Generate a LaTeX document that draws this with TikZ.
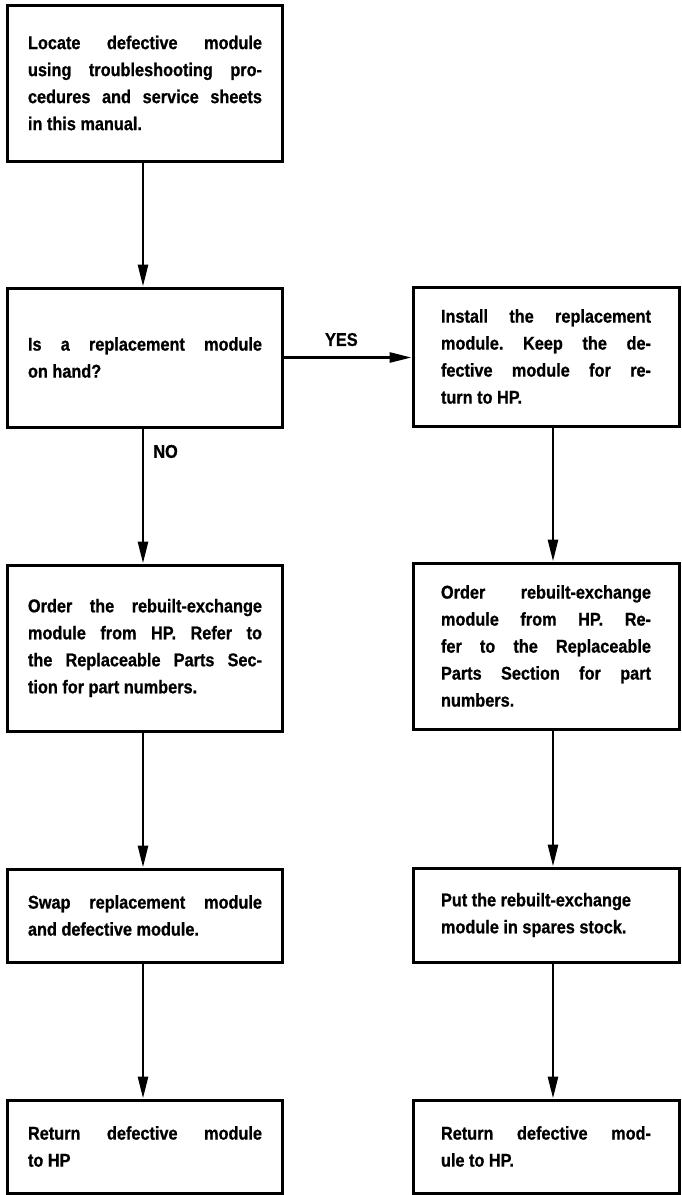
\documentclass[tikz,border=0pt]{standalone}
\usepackage{fontspec}
\setmainfont{Liberation Sans}[FakeStretch=0.88,BoldFeatures={FakeBold=0.8}]
\usetikzlibrary{arrows.meta}
\begin{document}
\begin{tikzpicture}[x=1pt,y=-1pt,
  box/.style={draw, line width=3pt, inner sep=0pt, align=justify,
    font=\fontsize{18.5}{27}\selectfont\bfseries,
    execute at begin node={\frenchspacing\hyphenpenalty=10000\tolerance=9999\emergencystretch=0pt}},
  lbox/.style={box, minimum width=275pt, text width=234pt},
  rbox/.style={box, minimum width=266pt, text width=210pt},
  flow/.style={line width=2.7pt, -{Triangle[length=22pt,width=10pt]}},
  lab/.style={inner sep=0pt, font=\fontsize{18.5}{20}\selectfont\bfseries}]
\useasboundingbox (0,0) rectangle (681,1195);

% left column
\node[lbox, minimum height=156pt] (b1) at (145,83)
  {Locate defective module\linebreak using troubleshooting pro-\linebreak cedures and service sheets\linebreak in this manual.};
\node[lbox, minimum height=139pt] (b2) at (145,357.5)
  {Is a replacement module\linebreak on hand?};
\node[lbox, minimum height=166pt] (b3) at (145,648)
  {Order the rebuilt-exchange\linebreak module from HP. Refer to\linebreak the Replaceable Parts Sec-\linebreak tion for part numbers.};
\node[lbox, minimum height=93pt] (b5) at (145,915.5)
  {Swap replacement module\linebreak and defective module.};
\node[lbox, minimum height=93pt] (b7) at (145,1146.5)
  {Return defective module\linebreak to HP};

% right column
\node[rbox, minimum height=139pt] (b4) at (546,356.5)
  {Install the replacement\linebreak module. Keep the de-\linebreak fective module for re-\linebreak turn to HP.};
\node[rbox, minimum height=166pt] (b6) at (546,646)
  {Order rebuilt-exchange\linebreak module from HP. Re-\linebreak fer to the Replaceable\linebreak Parts Section for part\linebreak numbers.};
\node[rbox, minimum height=94pt] (b8) at (546,915)
  {Put the rebuilt-exchange\\ module in spares stock.};
\node[rbox, minimum height=93pt] (b10) at (546,1146.5)
  {Return defective mod-\linebreak ule to HP.};

\coordinate (la) at (143,0);
\coordinate (ra) at (553,0);

% connectors
\draw[flow] (b1.south -| la) -- (b2.north -| la);
\draw[flow] (b2.east) -- node[lab, above=10pt, pos=0.45] {YES} (b2.east -| b4.west);
\draw[flow] (b2.south -| la) -- node[lab, right=9pt, pos=0.17] {NO} (b3.north -| la);
\draw[flow] (b3.south -| la) -- (b5.north -| la);
\draw[flow] (b5.south -| la) -- (b7.north -| la);
\draw[flow] (b4.south -| ra) -- (b6.north -| ra);
\draw[flow] (b6.south -| ra) -- (b8.north -| ra);
\draw[flow] (b8.south -| ra) -- (b10.north -| ra);
\end{tikzpicture}
\end{document}
